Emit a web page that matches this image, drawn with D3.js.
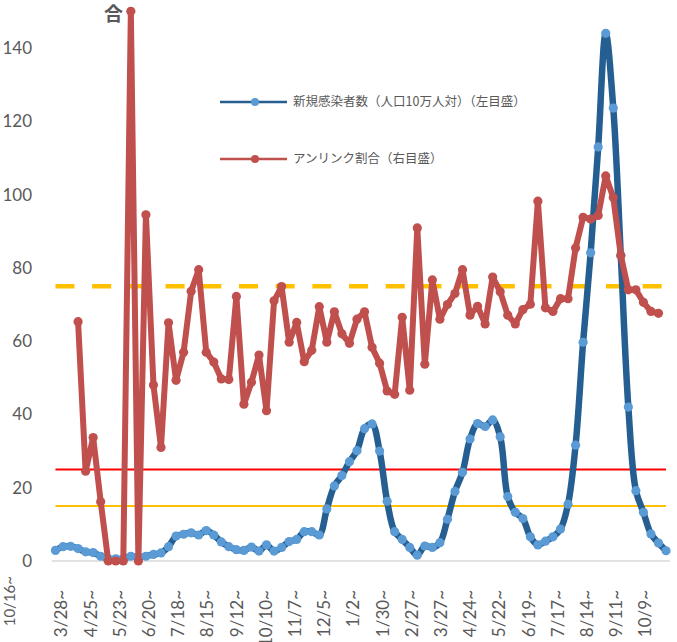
<!DOCTYPE html>
<html>
<head>
<meta charset="utf-8">
<script src="https://cdn.jsdelivr.net/npm/d3@7"></script>
<style>
  body { margin: 0; background: #fff; }
  svg { display: block; font-family: Lato, "Noto Sans CJK JP", sans-serif; }
</style>
</head>
<body>
<div id="graphic"></div>
<script>
// weekly categories (week starting)
const weeks = ["3/28","4/4","4/11","4/18","4/25","5/2","5/9","5/16","5/23","5/30","6/6","6/13","6/20","6/27",
  "7/4","7/11","7/18","7/25","8/1","8/8","8/15","8/22","8/29","9/5","9/12","9/19","9/26","10/3","10/10",
  "10/17","10/24","10/31","11/7","11/14","11/21","11/28","12/5","12/12","12/19","12/26",
  "1/2","1/9","1/16","1/23","1/30","2/6","2/13","2/20","2/27","3/6","3/13","3/20","3/27","4/3","4/10",
  "4/17","4/24","5/1","5/8","5/15","5/22","5/29","6/5","6/12","6/19","6/26","7/3","7/10","7/17","7/24",
  "7/31","8/7","8/14","8/21","8/28","9/4","9/11","9/18","9/25","10/2","10/9","10/16"]

// 新規感染者数（人口10万人対） - left axis
const newCases = [2.9,3.9,4.0,3.4,2.5,2.3,1.3,0.6,0.6,0.6,1.3,1.1,1.3,1.8,2.2,3.9,6.8,7.3,7.7,7.1,
  8.3,7.1,5.2,3.9,3.1,2.9,3.8,2.7,4.4,2.7,3.7,5.3,5.9,8.0,8.0,7.1,14.2,20.5,23.3,27.1,
  30.1,36.1,37.4,30.0,16.3,8.0,5.9,3.7,1.6,4.1,3.7,5.0,11.4,19.0,24.2,33.3,37.5,36.7,38.5,33.9,
  17.6,13.3,11.6,6.6,4.4,5.4,6.6,8.7,15.5,31.6,59.7,84.1,113,144,123.6,83.4,42,19.2,13.3,7.4,
  4.9,2.8]

// アンリンク割合 - right axis
const unlinked = [null,null,null,65.3,24.5,33.7,16.2,0,0,0,150,0,94.5,48,31,65,49.3,57,73.6,79.5,
  57,54.3,49.7,49.5,72.2,42.8,48.8,56.2,41,71,74.9,59.7,65.1,54.4,57.5,69.4,59.7,68,62,59.4,
  66,68,58.3,54,46.4,45.5,66.5,46.6,90.9,53.7,76.7,66,70,73,79.5,67.1,69.5,64.7,77.5,73.5,
  67.1,64.7,68.6,70.1,98.2,69.1,68.1,71.6,71.6,85.4,93.8,93.3,94.3,105.1,99.2,83.4,74,74,70.6,68.1,
  67.6,null]

// reference levels on the right axis: dashed 75, red 25, yellow 15
const refLevels = [75, 25, 15]

const yTicks = [0, 20, 40, 60, 80, 100, 120, 140]
const tickLabels = weeks.filter((d, i) => i % 4 === 0 && i < weeks.length - 1).map(d => d + "~")

const legendItems = ["新規感染者数（人口10万人対）（左目盛）", "アンリンク割合（右目盛）"]

const width = 677, height = 642
const gray = "#595959"

const svg = d3.select("#graphic").append("svg")
  .attr("width", width)
  .attr("height", height)

// scales
let x = d3.scalePoint()
  .domain(d3.range(weeks.length))
  .range([51.7, 669.8])
  .padding(0.5)

// the label axis sits a little differently from the points, as in the source
let xLab = d3.scalePoint()
  .domain(tickLabels)
  .range([61, 645])

let y = d3.scaleLinear().domain([0, 140]).range([561, 48])
let yRight = d3.scaleLinear().domain([0, 140]).range([561, 48])

// baseline
svg.append("line")
  .attr("x1", 51.7).attr("x2", 669.8)
  .attr("y1", y(0)).attr("y2", y(0))
  .attr("stroke", "#d9d9d9")
  .attr("stroke-width", 1.5)

// y axis labels
svg.append("g")
  .attr("transform", "translate(32,0)")
  .call(d3.axisLeft(y).tickValues(yTicks).tickSize(0).tickPadding(0))
  .call(g => g.select(".domain").remove())
  .selectAll("text")
  .attr("fill", gray)
  .style("font-size", "17px")
  .style("font-family", "Lato, sans-serif")

// x axis labels
let xAxis = svg.append("g")
  .attr("transform", "translate(0,590)")
  .call(d3.axisBottom(xLab).tickSize(0))
xAxis.select(".domain").remove()
xAxis.selectAll("text")
  .attr("transform", "rotate(-90)")
  .attr("x", 0)
  .attr("y", 0)
  .attr("dy", "0.35em")
  .attr("text-anchor", "end")
  .attr("fill", gray)
  .style("font-size", "17px")
  .style("font-family", "Lato, sans-serif")

// last category label sits on its own at the far left
svg.append("text")
  .attr("transform", "translate(10,576) rotate(-90)")
  .attr("dy", "0.35em")
  .attr("text-anchor", "end")
  .attr("fill", gray)
  .style("font-size", "15px")
  .text(weeks[weeks.length - 1] + "~")

// reference lines
const first = x(0), last = x(weeks.length - 1)
const refStyles = [
  { color: "#ffc000", w: 4.5, dash: "19,17.7" },
  { color: "#ff0000", w: 2, dash: null },
  { color: "#ffc000", w: 2, dash: null }
]
svg.selectAll(null)
  .data(refLevels)
  .enter().append("line")
  .attr("x1", first).attr("x2", last)
  .attr("y1", d => yRight(d)).attr("y2", d => yRight(d))
  .attr("stroke", (d, i) => refStyles[i].color)
  .attr("stroke-width", (d, i) => refStyles[i].w)
  .attr("stroke-dasharray", (d, i) => refStyles[i].dash)

// blue series (smoothed)
let blueLine = d3.line()
  .x((d, i) => x(i))
  .y(d => y(d))
  .curve(d3.curveCatmullRom.alpha(0.5))

svg.append("path")
  .datum(newCases)
  .attr("d", blueLine)
  .attr("fill", "none")
  .attr("stroke", "#255e91")
  .attr("stroke-width", 6.5)
  .attr("stroke-linejoin", "round")

svg.selectAll(null)
  .data(newCases)
  .enter().append("circle")
  .attr("cx", (d, i) => x(i))
  .attr("cy", d => y(d))
  .attr("r", 4.6)
  .attr("fill", "#5b9bd5")

// red series
let redLine = d3.line()
  .defined(d => d !== null)
  .x((d, i) => x(i))
  .y(d => yRight(d))

svg.append("path")
  .datum(unlinked)
  .attr("d", redLine)
  .attr("fill", "none")
  .attr("stroke", "#c0504d")
  .attr("stroke-width", 6)
  .attr("stroke-linejoin", "round")

svg.selectAll(null)
  .data(unlinked.map((v, i) => [i, v]).filter(d => d[1] !== null))
  .enter().append("circle")
  .attr("cx", d => x(d[0]))
  .attr("cy", d => yRight(d[1]))
  .attr("r", 4.6)
  .attr("fill", "#c0504d")

// legend
const legendColors = [["#255e91", "#5b9bd5"], ["#c0504d", "#c0504d"]]
const legendY = [102, 159]
let legend = svg.selectAll(null)
  .data(legendItems)
  .enter().append("g")
  .attr("transform", (d, i) => "translate(220," + legendY[i] + ")")
legend.append("line")
  .attr("x1", 0).attr("x2", 67)
  .attr("stroke", (d, i) => legendColors[i][0])
  .attr("stroke-width", 2.5)
legend.append("circle")
  .attr("cx", 35)
  .attr("r", 4)
  .attr("fill", (d, i) => legendColors[i][1])
legend.append("text")
  .attr("x", 73)
  .attr("dy", "0.35em")
  .attr("fill", gray)
  .style("font-size", "12.5px")
  .style("font-family", "'Noto Sans CJK JP', sans-serif")
  .text(d => d)

// cut-off title remnant at the top
svg.append("text")
  .attr("x", 104)
  .attr("y", 21)
  .attr("fill", gray)
  .style("font-size", "19px")
  .style("font-weight", "bold")
  .style("font-family", "'Noto Sans CJK JP', sans-serif")
  .text("合")
</script>
</body>
</html>
